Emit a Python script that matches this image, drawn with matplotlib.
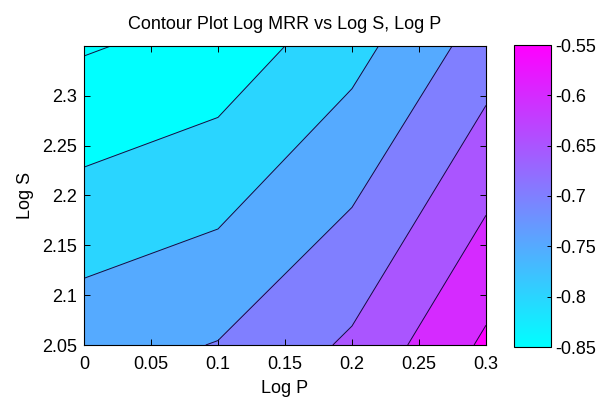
import numpy as np
import matplotlib.pyplot as plt
import matplotlib as mpl

plt.rcParams['font.family'] = ['Liberation Sans', 'DejaVu Sans']

# grid values
log_p = [0, 0.1, 0.2, 0.3]
log_s = [2.05, 2.35]
log_mrr_low = [-0.720, -0.698, -0.642, -0.541]   # at Log S = 2.05
log_mrr_high = [-0.8545, -0.832, -0.768, -0.677]  # at Log S = 2.35

line_levels = [-0.85, -0.8, -0.75, -0.7, -0.65, -0.6, -0.55]
cbar_ticks = [-0.85, -0.8, -0.75, -0.7, -0.65, -0.6, -0.55]
cbar_labels = ['-0.85', '-0.8', '-0.75', '-0.7', '-0.65', '-0.6', '-0.55']
x_ticks = [0, 0.05, 0.1, 0.15, 0.2, 0.25, 0.3]
x_labels = ['0', '0.05', '0.1', '0.15', '0.2', '0.25', '0.3']
y_ticks = [2.05, 2.1, 2.15, 2.2, 2.25, 2.3]
y_labels = ['2.05', '2.1', '2.15', '2.2', '2.25', '2.3']

X, Y = np.meshgrid(log_p, log_s)
Z = np.array([log_mrr_low, log_mrr_high])

cmap = plt.get_cmap('cool')
norm = mpl.colors.Normalize(vmin=-0.85, vmax=-0.55)

# matlab style: each band gets the colour of its lower level
fill_levels = [-0.9] + line_levels + [-0.5]
band_colors = [cmap(norm(max(l, -0.85))) for l in fill_levels[:-1]]

fig = plt.figure(figsize=(6.08, 4.01), dpi=100)
ax = fig.add_axes([84/608, 1-345/401, 402/608, 299/401])
ax.contourf(X, Y, Z, levels=fill_levels, colors=band_colors)
ax.contour(X, Y, Z, levels=line_levels, colors='#101040', linewidths=0.7,
           linestyles='solid')

ax.set_xlim(0, 0.3)
ax.set_ylim(2.05, 2.35)
ax.set_xticks(x_ticks)
ax.set_xticklabels(x_labels)
ax.set_yticks(y_ticks)
ax.set_yticklabels(y_labels)
ax.tick_params(direction='in', top=True, right=True, length=4, width=0.7, labelsize=13)
ax.tick_params(axis='x', pad=8)
ax.tick_params(axis='y', pad=5)
for s in ax.spines.values():
    s.set_linewidth(0.8)
ax.set_xlabel('Log P', fontsize=13, labelpad=5)
ax.set_ylabel('Log S', fontsize=13, labelpad=6)
ax.set_title('Contour Plot Log MRR vs Log S, Log P', fontsize=13, pad=12)

cax = fig.add_axes([514/608, 1-347/401, 37/608, 302/401])
sm = mpl.cm.ScalarMappable(norm=norm, cmap=cmap)
cb = fig.colorbar(sm, cax=cax, ticks=cbar_ticks)
cb.ax.set_yticklabels(cbar_labels)
cb.ax.tick_params(direction='in', length=3, width=0.7, labelsize=13, pad=3)
cb.outline.set_linewidth(0.8)

fig.savefig('out.png', dpi=100)
